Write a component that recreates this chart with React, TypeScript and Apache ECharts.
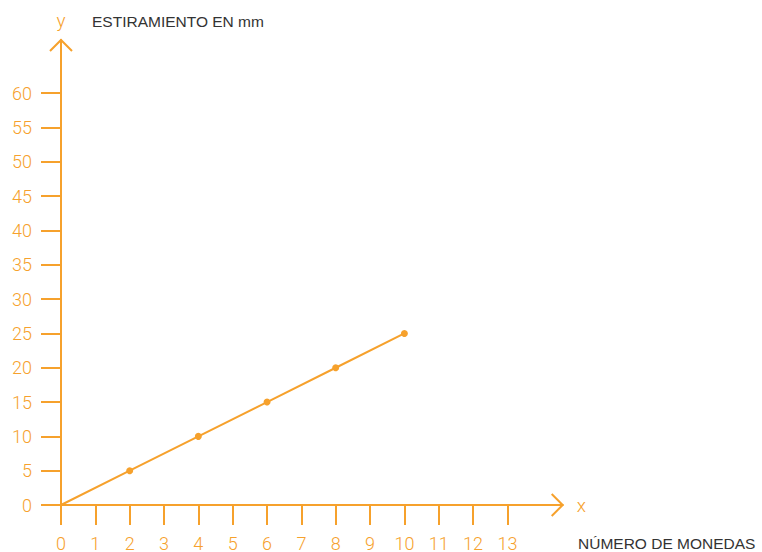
import React, { useEffect, useRef } from "react";
import * as echarts from "echarts";

const xValues = [0, 2, 4, 6, 8, 10];
const yValues = [0, 5, 10, 15, 20, 25];
const xTicks = [0, 1, 2, 3, 4, 5, 6, 7, 8, 9, 10, 11, 12, 13];
const yTicks = [0, 5, 10, 15, 20, 25, 30, 35, 40, 45, 50, 55, 60];
const yTitle = "ESTIRAMIENTO EN mm";
const xTitle = "NÚMERO DE MONEDAS";

const ORANGE = "#F6A12C";
const DARK = "#333333";
const FONT = "Roboto";
const TFONT = "Liberation Sans";

export default function App() {
  const ref = useRef<HTMLDivElement>(null);
  useEffect(() => {
    document.body.style.margin = "0";
    const chart = echarts.init(ref.current!, null, { renderer: "svg" });
    const X_MAX = 14.61;
    const Y_MAX = 67.75;
    chart.setOption({
      animation: false,
      backgroundColor: "#ffffff",
      title: [
        {
          text: yTitle,
          left: 92,
          top: 13,
          padding: 0,
          textStyle: { color: DARK, fontSize: 15.5, fontWeight: 400, fontFamily: TFONT },
        },
        {
          text: xTitle,
          left: 578,
          top: 535,
          padding: 0,
          textStyle: { color: DARK, fontSize: 15.5, fontWeight: 400, fontFamily: TFONT },
        },
      ],
      grid: { left: 61, right: 199.3, top: 40, bottom: 45.3, containLabel: false },
      xAxis: {
        type: "value",
        min: 0,
        max: X_MAX,
        name: "x",
        nameLocation: "end",
        nameGap: 14,
        nameTextStyle: { color: ORANGE, fontSize: 19, fontWeight: 300, fontFamily: FONT, verticalAlign: "middle" },
        splitLine: { show: false },
        axisLine: { show: true, lineStyle: { color: ORANGE, width: 2 } },
        axisTick: { show: true, length: 20, inside: false, customValues: xTicks, lineStyle: { color: ORANGE, width: 2 } },
        axisLabel: {
          show: true,
          customValues: xTicks,
          margin: 29,
          color: ORANGE,
          fontSize: 18,
          fontWeight: 300,
          fontFamily: FONT,
        },
      },
      yAxis: {
        type: "value",
        min: 0,
        max: Y_MAX,
        name: "y",
        nameLocation: "end",
        nameGap: 10,
        nameTextStyle: { color: ORANGE, fontSize: 19, fontWeight: 300, fontFamily: FONT, align: "center" },
        splitLine: { show: false },
        axisLine: { show: true, lineStyle: { color: ORANGE, width: 2 } },
        axisTick: { show: true, length: 20, inside: false, customValues: yTicks, lineStyle: { color: ORANGE, width: 2 } },
        axisLabel: {
          show: true,
          customValues: yTicks,
          margin: 29,
          color: ORANGE,
          fontSize: 18,
          fontWeight: 300,
          fontFamily: FONT,
        },
      },
      series: [
        {
          type: "line",
          data: xValues.map((x, i) =>
            i === 0 ? { value: [x, yValues[i]], symbol: "none" } : { value: [x, yValues[i]] }
          ),
          symbol: "circle",
          symbolSize: 7,
          lineStyle: { color: ORANGE, width: 2 },
          itemStyle: { color: ORANGE },
          silent: true,
        },
      ],
    });
    const xTip = chart.convertToPixel({ gridIndex: 0 }, [X_MAX, 0]) as number[];
    const yTip = chart.convertToPixel({ gridIndex: 0 }, [0, Y_MAX]) as number[];
    const a = 11;
    chart.setOption({
      graphic: [
        {
          type: "polyline",
          shape: { points: [[xTip[0] - a, xTip[1] - a], [xTip[0], xTip[1]], [xTip[0] - a, xTip[1] + a]] },
          style: { stroke: ORANGE, lineWidth: 2, fill: null },
        },
        {
          type: "polyline",
          shape: { points: [[yTip[0] - a, yTip[1] + a], [yTip[0], yTip[1]], [yTip[0] + a, yTip[1] + a]] },
          style: { stroke: ORANGE, lineWidth: 2, fill: null },
        },
      ],
    });
    return () => chart.dispose();
  }, []);
  return <div ref={ref} style={{ position: "fixed", left: 0, top: 0, width: 762, height: 552 }} />;
}
